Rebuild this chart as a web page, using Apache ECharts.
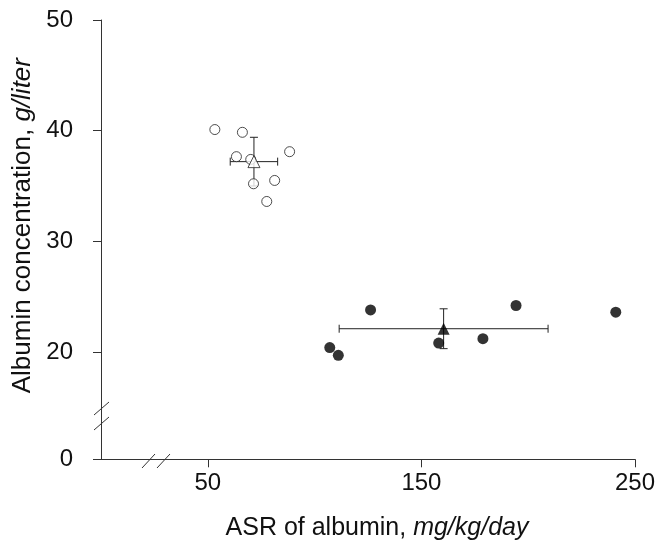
<!DOCTYPE html>
<html>
<head>
<meta charset="utf-8">
<style>
  html, body { margin: 0; padding: 0; background: #fff; }
  #chart { width: 661px; height: 542px; }
</style>
<script src="https://cdn.jsdelivr.net/npm/echarts@6/dist/echarts.min.js"></script>
</head>
<body>
<div id="chart"></div>
<script>
// Data
const controlX = [53.3, 66.2, 63.4, 70.1, 88.3, 81.3, 71.4, 77.6];
const controlY = [40.1, 39.85, 37.65, 37.4, 38.1, 35.5, 35.2, 33.6];
const patientX = [107.1, 111.1, 126.2, 158.1, 178.8, 194.3, 241.0];
const patientY = [20.4, 19.7, 23.8, 20.8, 21.2, 24.2, 23.6];
// mean x, mean y, sd x, sd y
const controlMean = [71.6, 37.2, 11.1, 2.2];
const patientMean = [160.4, 22.1, 48.9, 1.8];

const xTicks = [50, 150, 250];
// the lowest tick sits below the axis break and is labelled 0
const yTickValues = [10.3, 20, 30, 40, 50];
const yTickLabels = ['0', '20', '30', '40', '50'];

const chart = echarts.init(document.getElementById('chart'));

function renderErrorBars(params, api) {
    const mx = api.value(0), my = api.value(1), sx = api.value(2), sy = api.value(3);
    const left = api.coord([mx - sx, my]);
    const right = api.coord([mx + sx, my]);
    const top = api.coord([mx, my + sy]);
    const bottom = api.coord([mx, my - sy]);
    const cap = 4;
    const style = { stroke: '#222', lineWidth: 1 };
    const line = (x1, y1, x2, y2) => ({ type: 'line', shape: { x1, y1, x2, y2 }, style });
    return {
        type: 'group',
        children: [
            line(left[0], left[1], right[0], right[1]),
            line(left[0], left[1] - cap, left[0], left[1] + cap),
            line(right[0], right[1] - cap, right[0], right[1] + cap),
            line(top[0], top[1], bottom[0], bottom[1]),
            line(top[0] - cap, top[1], top[0] + cap, top[1]),
            line(bottom[0] - cap, bottom[1], bottom[0] + cap, bottom[1])
        ]
    };
}

const zip = (xs, ys) => xs.map((x, i) => [x, ys[i]]);
const font = 'Liberation Sans, Arial, sans-serif';
const axisColor = '#333';

const option = {
    animation: false,
    grid: { left: 101, right: 26, top: 20, bottom: 82.7, outerBoundsMode: 'none' },
    xAxis: {
        type: 'value',
        min: 0,
        max: 250,
        axisLine: { show: true, lineStyle: { color: axisColor, width: 1 } },
        axisTick: { show: true, length: 8, lineStyle: { color: axisColor }, customValues: xTicks },
        axisLabel: { customValues: xTicks, color: '#111', fontSize: 24, fontFamily: font, margin: 12 },
        splitLine: { show: false },
        name: '{a|ASR of albumin, }{b|mg/kg/day}',
        nameLocation: 'middle',
        nameGap: 56,
        nameTextStyle: {
            padding: [0, 0, 0, 18],
            rich: {
                a: { fontSize: 25, fontFamily: font, color: '#111' },
                b: { fontSize: 25, fontFamily: font, color: '#111', fontStyle: 'italic' }
            }
        }
    },
    yAxis: {
        type: 'value',
        min: yTickValues[0],
        max: 50,
        axisLine: { show: true, lineStyle: { color: axisColor, width: 1 } },
        axisTick: { show: true, length: 8, lineStyle: { color: axisColor }, customValues: yTickValues },
        axisLabel: {
            customValues: yTickValues,
            color: '#111',
            fontSize: 24,
            fontFamily: font,
            margin: 28,
            formatter: function(v) {
                const i = yTickValues.indexOf(v);
                return i >= 0 ? yTickLabels[i] : '';
            }
        },
        splitLine: { show: false },
        name: '{a|Albumin concentration, }{b|g/liter}',
        nameLocation: 'middle',
        nameRotate: 90,
        nameGap: 64,
        nameTextStyle: {
            padding: [0, 0, 0, 28],
            rich: {
                a: { fontSize: 26, fontFamily: font, color: '#111' },
                b: { fontSize: 26, fontFamily: font, color: '#111', fontStyle: 'italic' }
            }
        }
    },
    graphic: [
        // axis break marks
        { type: 'line', shape: { x1: 94, y1: 415, x2: 109, y2: 402 }, style: { stroke: '#333', lineWidth: 1 } },
        { type: 'line', shape: { x1: 94, y1: 430, x2: 109, y2: 417 }, style: { stroke: '#333', lineWidth: 1 } },
        { type: 'line', shape: { x1: 150, y1: 459.3, x2: 161, y2: 459.3 }, style: { stroke: '#fff', lineWidth: 3 } },
        { type: 'line', shape: { x1: 142, y1: 468, x2: 155, y2: 454 }, style: { stroke: '#333', lineWidth: 1 } },
        { type: 'line', shape: { x1: 157, y1: 468, x2: 170, y2: 454 }, style: { stroke: '#333', lineWidth: 1 } }
    ],
    series: [
        {
            type: 'custom',
            renderItem: renderErrorBars,
            data: [controlMean, patientMean],
            z: 1
        },
        {
            name: 'Control',
            type: 'scatter',
            symbol: 'circle',
            symbolSize: 10,
            data: zip(controlX, controlY),
            itemStyle: { color: '#fff', borderColor: '#222', borderWidth: 1 },
            z: 2
        },
        {
            name: 'Patients',
            type: 'scatter',
            symbol: 'circle',
            symbolSize: 11,
            data: zip(patientX, patientY),
            itemStyle: { color: '#000' },
            z: 2
        },
        {
            name: 'Means',
            type: 'scatter',
            symbol: 'triangle',
            symbolSize: 12,
            data: [
                { value: controlMean.slice(0, 2), itemStyle: { color: '#fff', borderColor: '#222', borderWidth: 1 } },
                { value: patientMean.slice(0, 2), itemStyle: { color: '#000' } }
            ],
            z: 3
        }
    ]
};

chart.setOption(option);
</script>
</body>
</html>
